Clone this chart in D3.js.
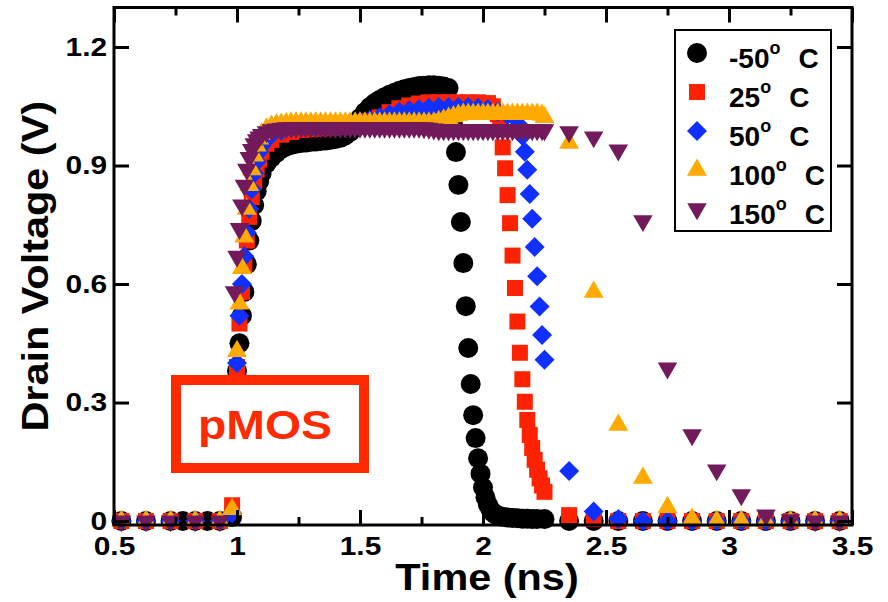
<!DOCTYPE html>
<html>
<head>
<meta charset="utf-8">
<script src="https://cdn.jsdelivr.net/npm/d3@7"></script>
<style>
  body { margin: 0; background: #fff; }
  svg { display: block; }
</style>
</head>
<body>
<svg id="chart"></svg>
<script>
// drain voltage (V) vs time (ns), one array of [t, v] pairs per temperature
const tempM50 = [
  [0.53,0],[0.63,0],[0.73,0],[0.78,0],[0.83,0],[0.88,0],[0.93,0],[0.98,0.01],
  [1.00,0.38],[1.01,0.45],[1.02,0.52],[1.03,0.58],[1.04,0.65],[1.05,0.71],[1.06,0.76],[1.07,0.80],
  [1.08,0.835],[1.09,0.86],[1.10,0.88],[1.12,0.905],[1.14,0.92],[1.16,0.932],[1.18,0.942],[1.20,0.948],
  [1.22,0.952],[1.24,0.955],[1.26,0.957],[1.28,0.958],[1.30,0.96],[1.32,0.961],[1.34,0.962],[1.36,0.963],
  [1.38,0.965],[1.40,0.967],[1.42,0.97],[1.44,0.976],[1.46,0.985],[1.48,1.0],[1.50,1.02],[1.52,1.035],
  [1.54,1.048],[1.56,1.058],[1.58,1.066],[1.60,1.073],[1.62,1.079],[1.64,1.084],[1.66,1.089],[1.68,1.093],
  [1.70,1.096],[1.72,1.099],[1.74,1.101],[1.76,1.102],[1.78,1.103],[1.80,1.103],[1.82,1.102],[1.84,1.10],
  [1.86,1.096],[1.88,1.0],
  [1.89,0.934],[1.90,0.851],[1.91,0.757],[1.92,0.653],[1.93,0.544],[1.94,0.438],[1.95,0.347],[1.96,0.268],
  [1.97,0.21],[1.98,0.159],[1.99,0.12],[2.00,0.085],[2.01,0.06],[2.02,0.042],[2.03,0.03],[2.04,0.022],
  [2.05,0.017],[2.06,0.014],[2.08,0.011],[2.10,0.009],[2.12,0.008],[2.14,0.007],[2.16,0.006],[2.18,0.006],
  [2.20,0.005],[2.22,0.005],[2.25,0.005],
  [2.35,0],[2.45,0],[2.55,0],[2.65,0],[2.75,0],[2.85,0],[2.95,0],[3.05,0],[3.15,0],[3.25,0],[3.35,0],[3.45,0]
];
const temp25 = [
  [0.53,0],[0.63,0],[0.73,0],[0.83,0],[0.93,0],[0.98,0.04],
  [1.00,0.39],[1.01,0.50],[1.02,0.58],[1.03,0.65],[1.04,0.71],[1.05,0.77],[1.06,0.82],[1.07,0.86],
  [1.08,0.89],[1.09,0.915],[1.10,0.935],[1.12,0.955],[1.14,0.965],[1.18,0.978],[1.22,0.985],[1.26,0.99],
  [1.30,0.992],[1.34,0.994],[1.38,0.996],[1.42,0.998],[1.46,1.0],[1.50,1.005],[1.54,1.012],[1.58,1.022],
  [1.62,1.035],[1.66,1.045],[1.70,1.052],[1.74,1.057],[1.78,1.06],[1.82,1.06],[1.86,1.06],[1.90,1.06],
  [1.94,1.06],[1.98,1.06],[2.02,1.058],[2.04,1.05],[2.06,1.03],[2.07,1.0],
  [2.08,0.946],[2.09,0.893],[2.10,0.825],[2.11,0.754],[2.12,0.672],[2.13,0.590],[2.14,0.505],[2.15,0.426],
  [2.16,0.359],[2.17,0.302],[2.18,0.256],[2.19,0.218],[2.20,0.185],[2.21,0.155],[2.22,0.13],[2.23,0.108],
  [2.24,0.09],[2.25,0.074],
  [2.35,0.015],[2.45,0.005],[2.55,0],[2.65,0],[2.75,0],[2.85,0],[2.95,0],[3.05,0],[3.15,0],[3.25,0],[3.35,0],[3.45,0]
];
const temp50 = [
  [0.53,0],[0.63,0],[0.73,0],[0.83,0],[0.93,0],[0.98,0.02],
  [1.00,0.40],[1.01,0.52],[1.02,0.60],[1.03,0.67],[1.04,0.73],[1.05,0.79],[1.06,0.84],[1.07,0.88],
  [1.08,0.91],[1.09,0.935],[1.10,0.95],[1.12,0.968],[1.14,0.978],[1.18,0.988],[1.22,0.995],[1.26,1.0],
  [1.30,1.0],[1.34,1.002],[1.38,1.004],[1.42,1.006],[1.46,1.008],[1.50,1.01],[1.54,1.015],[1.58,1.022],
  [1.62,1.03],[1.66,1.036],[1.70,1.04],[1.74,1.043],[1.78,1.046],[1.82,1.048],[1.86,1.048],[1.90,1.048],
  [1.94,1.048],[1.98,1.046],[2.02,1.043],[2.06,1.036],[2.10,1.028],[2.13,1.02],[2.15,1.0],[2.16,0.975],
  [2.17,0.935],[2.18,0.889],[2.19,0.828],[2.20,0.765],[2.21,0.694],[2.22,0.620],[2.23,0.543],[2.24,0.471],
  [2.25,0.408],
  [2.35,0.127],[2.45,0.024],[2.55,0.005],[2.65,0],[2.75,0],[2.85,0],[2.95,0],[3.05,0],[3.15,0],[3.25,0],[3.35,0],[3.45,0]
];
const temp100 = [
  [0.53,0],[0.63,0],[0.73,0],[0.83,0],[0.93,0],[0.98,0.03],
  [1.00,0.43],[1.01,0.55],[1.02,0.64],[1.03,0.72],[1.04,0.79],[1.05,0.85],[1.06,0.89],[1.07,0.925],
  [1.08,0.95],[1.09,0.968],[1.10,0.98],[1.12,0.993],[1.14,1.0],[1.16,1.003],[1.18,1.005],[1.20,1.007],
  [1.22,1.008],[1.24,1.008],[1.26,1.008],[1.28,1.008],[1.30,1.008],[1.32,1.008],[1.34,1.008],[1.36,1.008],
  [1.38,1.008],[1.40,1.008],[1.42,1.008],[1.44,1.008],[1.46,1.008],[1.48,1.008],[1.50,1.008],[1.52,1.008],
  [1.54,1.008],[1.56,1.008],[1.58,1.008],[1.60,1.008],[1.62,1.008],[1.64,1.008],[1.66,1.008],[1.68,1.008],
  [1.70,1.008],[1.72,1.008],[1.74,1.008],[1.76,1.008],[1.78,1.008],[1.80,1.008],[1.82,1.012],[1.84,1.016],
  [1.86,1.02],[1.88,1.024],[1.90,1.028],[1.92,1.03],[1.94,1.03],[1.96,1.03],[1.98,1.03],[2.00,1.03],
  [2.02,1.03],[2.04,1.03],[2.06,1.03],[2.08,1.03],[2.10,1.03],[2.12,1.03],[2.14,1.03],[2.16,1.03],
  [2.18,1.03],[2.20,1.03],[2.22,1.03],[2.24,1.028],[2.25,1.022],
  [2.35,0.957],[2.45,0.58],[2.55,0.243],[2.65,0.109],[2.75,0.035],[2.85,0.005],[2.95,0],[3.05,0],[3.15,0],[3.25,0],[3.35,0],[3.45,0]
];
const temp150 = [
  [0.53,0],[0.63,0],[0.73,0],[0.83,0],[0.93,0],
  [0.99,0.58],[1.00,0.67],[1.01,0.74],[1.02,0.80],[1.03,0.85],[1.04,0.89],[1.05,0.92],[1.06,0.94],
  [1.07,0.955],[1.08,0.965],[1.09,0.972],[1.10,0.978],[1.12,0.985],[1.14,0.99],[1.16,0.992],[1.18,0.994],
  [1.20,0.995],[1.22,0.996],[1.24,0.996],[1.26,0.996],[1.28,0.996],[1.30,0.996],[1.32,0.996],[1.34,0.996],
  [1.36,0.996],[1.38,0.996],[1.40,0.996],[1.42,0.996],[1.44,0.996],[1.46,0.996],[1.48,0.996],[1.50,0.996],
  [1.52,0.996],[1.54,0.996],[1.56,0.996],[1.58,0.996],[1.60,0.996],[1.62,0.996],[1.64,0.996],[1.66,0.996],
  [1.68,0.996],[1.70,0.996],[1.72,0.996],[1.74,0.996],[1.76,0.995],[1.78,0.994],[1.80,0.992],[1.82,0.99],
  [1.84,0.99],[1.86,0.99],[1.88,0.99],[1.90,0.99],[1.92,0.99],[1.94,0.99],[1.96,0.99],[1.98,0.99],
  [2.00,0.99],[2.02,0.99],[2.04,0.99],[2.06,0.99],[2.08,0.99],[2.10,0.99],[2.12,0.99],[2.14,0.99],
  [2.16,0.99],[2.18,0.99],[2.20,0.99],[2.22,0.99],[2.24,0.99],[2.25,0.99],
  [2.35,0.985],[2.45,0.972],[2.55,0.939],[2.65,0.76],[2.75,0.387],[2.85,0.218],[2.95,0.129],[3.05,0.066],[3.15,0.015],[3.25,0.003],[3.35,0],[3.45,0]
];

const tempLabels = ["-50", "25", "50", "100", "150"];
const xMajorTicks = [0.5, 1, 1.5, 2, 2.5, 3, 3.5];
const xMinorTicks = [0.75, 1.25, 1.75, 2.25, 2.75, 3.25];
const yMajorTicks = [0, 0.3, 0.6, 0.9, 1.2];

const allSeries = [tempM50, temp25, temp50, temp100, temp150];
const markStyles = [
  { color: "#000000", type: d3.symbolCircle, size: 314, rotate: 0 },
  { color: "#ff2200", type: d3.symbolSquare, size: 256, rotate: 0 },
  { color: "#1030ff", type: d3.symbolSquare, size: 200, rotate: 45 },
  { color: "#ffaa00", type: d3.symbolTriangle, size: 173, rotate: 0 },
  { color: "#731a5c", type: d3.symbolTriangle, size: 165, rotate: 180 }
];

const width = 888;
const height = 602;
const plotLeft = 114, plotRight = 852, plotTop = 7.5, plotBottom = 525;

const x = d3.scaleLinear().domain([0.5, 3.5]).range([plotLeft, plotRight]);
const y = d3.scaleLinear().domain([-0.01, 1.3]).range([plotBottom, plotTop]);

const svg = d3.select("#chart")
  .attr("width", width)
  .attr("height", height);

// markers first, axes drawn on top of them
allSeries.forEach((series, i) => {
  const st = markStyles[i];
  const sym = d3.symbol().type(st.type).size(st.size);
  svg.append("g")
    .attr("fill", st.color)
    .selectAll("path")
    .data(series)
    .join("path")
    .attr("d", sym)
    .attr("transform", d => `translate(${x(d[0])},${y(d[1])}) rotate(${st.rotate})`);
});

const font = "'Liberation Sans', Arial, Helvetica, sans-serif";

function styleAxis(g, showLabels) {
  g.select(".domain").remove();
  g.selectAll(".tick line").attr("stroke", "#000").attr("stroke-width", 3);
  g.selectAll(".tick text")
    .attr("fill", "#000")
    .attr("transform", "scale(1.15,1)")
    .style("font-family", font)
    .style("font-weight", "bold")
    .style("font-size", "26px");
  if (!showLabels) g.selectAll(".tick text").remove();
}

svg.append("g")
  .attr("transform", `translate(0,${plotBottom})`)
  .call(d3.axisBottom(x).tickValues(xMajorTicks).tickSize(-15).tickPadding(12).tickFormat(d3.format("")))
  .call(g => styleAxis(g, true));
svg.append("g")
  .attr("transform", `translate(0,${plotBottom})`)
  .call(d3.axisBottom(x).tickValues(xMinorTicks).tickSize(-8))
  .call(g => styleAxis(g, false));
svg.append("g")
  .attr("transform", `translate(0,${plotTop})`)
  .call(d3.axisTop(x).tickValues(xMajorTicks).tickSize(-15))
  .call(g => styleAxis(g, false));
svg.append("g")
  .attr("transform", `translate(0,${plotTop})`)
  .call(d3.axisTop(x).tickValues(xMinorTicks).tickSize(-8))
  .call(g => styleAxis(g, false));
svg.append("g")
  .attr("transform", `translate(${plotLeft},0)`)
  .call(d3.axisLeft(y).tickValues(yMajorTicks).tickSize(-15).tickPadding(6).tickFormat(d3.format("")))
  .call(g => styleAxis(g, true));
svg.append("g")
  .attr("transform", `translate(${plotRight},0)`)
  .call(d3.axisRight(y).tickValues(yMajorTicks).tickSize(-15))
  .call(g => styleAxis(g, false));

svg.append("rect")
  .attr("x", plotLeft).attr("y", plotTop)
  .attr("width", plotRight - plotLeft).attr("height", plotBottom - plotTop)
  .attr("fill", "none").attr("stroke", "#000").attr("stroke-width", 3);

// axis titles
svg.append("text")
  .attr("transform", "translate(487,590) scale(1.12,1)")
  .attr("text-anchor", "middle")
  .style("font-family", font).style("font-weight", "bold").style("font-size", "37px")
  .text("Time (ns)");

svg.append("text")
  .attr("transform", `translate(48,${(plotTop + plotBottom) / 2}) rotate(-90) scale(1.12,1)`)
  .attr("text-anchor", "middle")
  .style("font-family", font).style("font-weight", "bold").style("font-size", "37px")
  .text("Drain Voltage (V)");

// pMOS label
svg.append("rect")
  .attr("x", 176).attr("y", 380).attr("width", 188).attr("height", 88)
  .attr("fill", "none").attr("stroke", "#ff2a00").attr("stroke-width", 10);
svg.append("text")
  .attr("transform", "translate(265,439) scale(1.16,1)")
  .attr("text-anchor", "middle")
  .attr("fill", "#ff2a00")
  .style("font-family", font).style("font-weight", "bold").style("font-size", "40px")
  .text("pMOS");

// legend
const legend = svg.append("g");
legend.append("rect")
  .attr("x", 675).attr("y", 30).attr("width", 156).attr("height", 201)
  .attr("fill", "#fff").attr("stroke", "#000").attr("stroke-width", 2);

tempLabels.forEach((lab, i) => {
  const st = markStyles[i];
  const cy = 53 + i * 39;
  legend.append("path")
    .attr("d", d3.symbol().type(st.type).size(st.size)())
    .attr("transform", `translate(697,${cy}) rotate(${st.rotate})`)
    .attr("fill", st.color);
  const t = legend.append("text")
    .attr("x", 729).attr("y", cy + 15)
    .style("font-family", font)
    .style("font-weight", "bold").style("font-size", "28px");
  t.append("tspan").text(lab);
  t.append("tspan").attr("dy", -14).style("font-size", "18px").text("o");
  t.append("tspan").attr("dy", 14).attr("dx", 18).text("C");
});
</script>
</body>
</html>
